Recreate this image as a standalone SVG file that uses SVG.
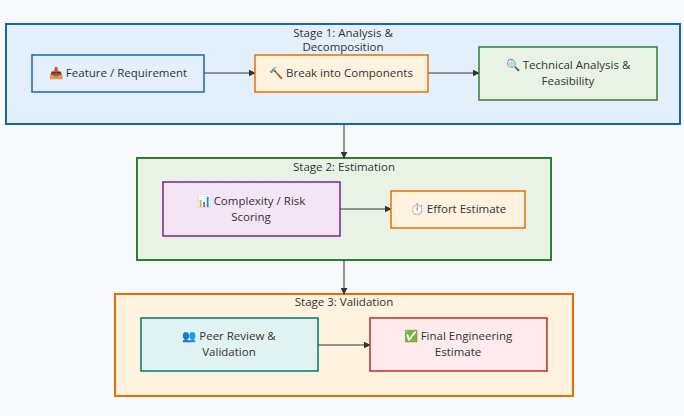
<svg xmlns="http://www.w3.org/2000/svg" width="684" height="416" viewBox="0 0 684 416">
<style>
text{font-family:"Open Sans","DejaVu Sans",sans-serif;font-size:11.5px;fill:#333;text-anchor:middle}
.e{stroke:#333;stroke-width:1;fill:none;marker-end:url(#a)}
</style>
<defs><marker id="a" viewBox="0 0 10 10" refX="9" refY="5" markerWidth="7" markerHeight="7" orient="auto"><path d="M0,0L10,5L0,10z" fill="#333"/></marker></defs>
<rect width="684" height="416" fill="#f8f9fb"/>
<g id="stage1"><rect x="6" y="24" width="674" height="100" fill="#e3f0fc" stroke="#1565c0" stroke-width="2"/><text x="343" y="37">Stage 1: Analysis &amp;</text><text x="343" y="51">Decomposition</text></g>
<g id="stage2"><rect x="137" y="158" width="414" height="102" fill="#e8f3e6" stroke="#2e7d32" stroke-width="2"/><text x="344" y="171">Stage 2: Estimation</text></g>
<g id="stage3"><rect x="115" y="294" width="458" height="102" fill="#fff2df" stroke="#ef6c00" stroke-width="2"/><text x="344" y="306">Stage 3: Validation</text></g>
<g id="connectors">
<path class="e" d="M204,73H255"/><path class="e" d="M428,73H479"/>
<path class="e" d="M344,124V158"/><path class="e" d="M340,209H391"/>
<path class="e" d="M344,260V294"/><path class="e" d="M318,345H370"/>
</g>
<g id="feature"><rect x="32" y="55" width="172" height="37" fill="#e3f0fc" stroke="#1565c0" stroke-width="1.5"/><text x="118" y="77">📥 Feature / Requirement</text></g>
<g id="break"><rect x="255" y="55" width="173" height="37" fill="#fff2df" stroke="#ef6c00" stroke-width="1.5"/><text x="341" y="77">🔨 Break into Components</text></g>
<g id="tech"><rect x="479" y="47" width="178" height="53" fill="#e8f3e6" stroke="#2e7d32" stroke-width="1.5"/><text x="568" y="69">🔍 Technical Analysis &amp;</text><text x="568" y="85">Feasibility</text></g>
<g id="complexity"><rect x="163" y="182" width="177" height="54" fill="#f3e5f5" stroke="#7b1fa2" stroke-width="1.5"/><text x="251" y="205">📊 Complexity / Risk</text><text x="251" y="221">Scoring</text></g>
<g id="effort"><rect x="391" y="191" width="134" height="37" fill="#fff2df" stroke="#ef6c00" stroke-width="1.5"/><text x="458" y="213">⏱️ Effort Estimate</text></g>
<g id="peer"><rect x="141" y="318" width="177" height="53" fill="#e0f2f1" stroke="#00796b" stroke-width="1.5"/><text x="229" y="340">👥 Peer Review &amp;</text><text x="229" y="356">Validation</text></g>
<g id="final"><rect x="370" y="318" width="177" height="53" fill="#ffebee" stroke="#c62828" stroke-width="1.5"/><text x="458" y="340">✅ Final Engineering</text><text x="458" y="356">Estimate</text></g>
</svg>
